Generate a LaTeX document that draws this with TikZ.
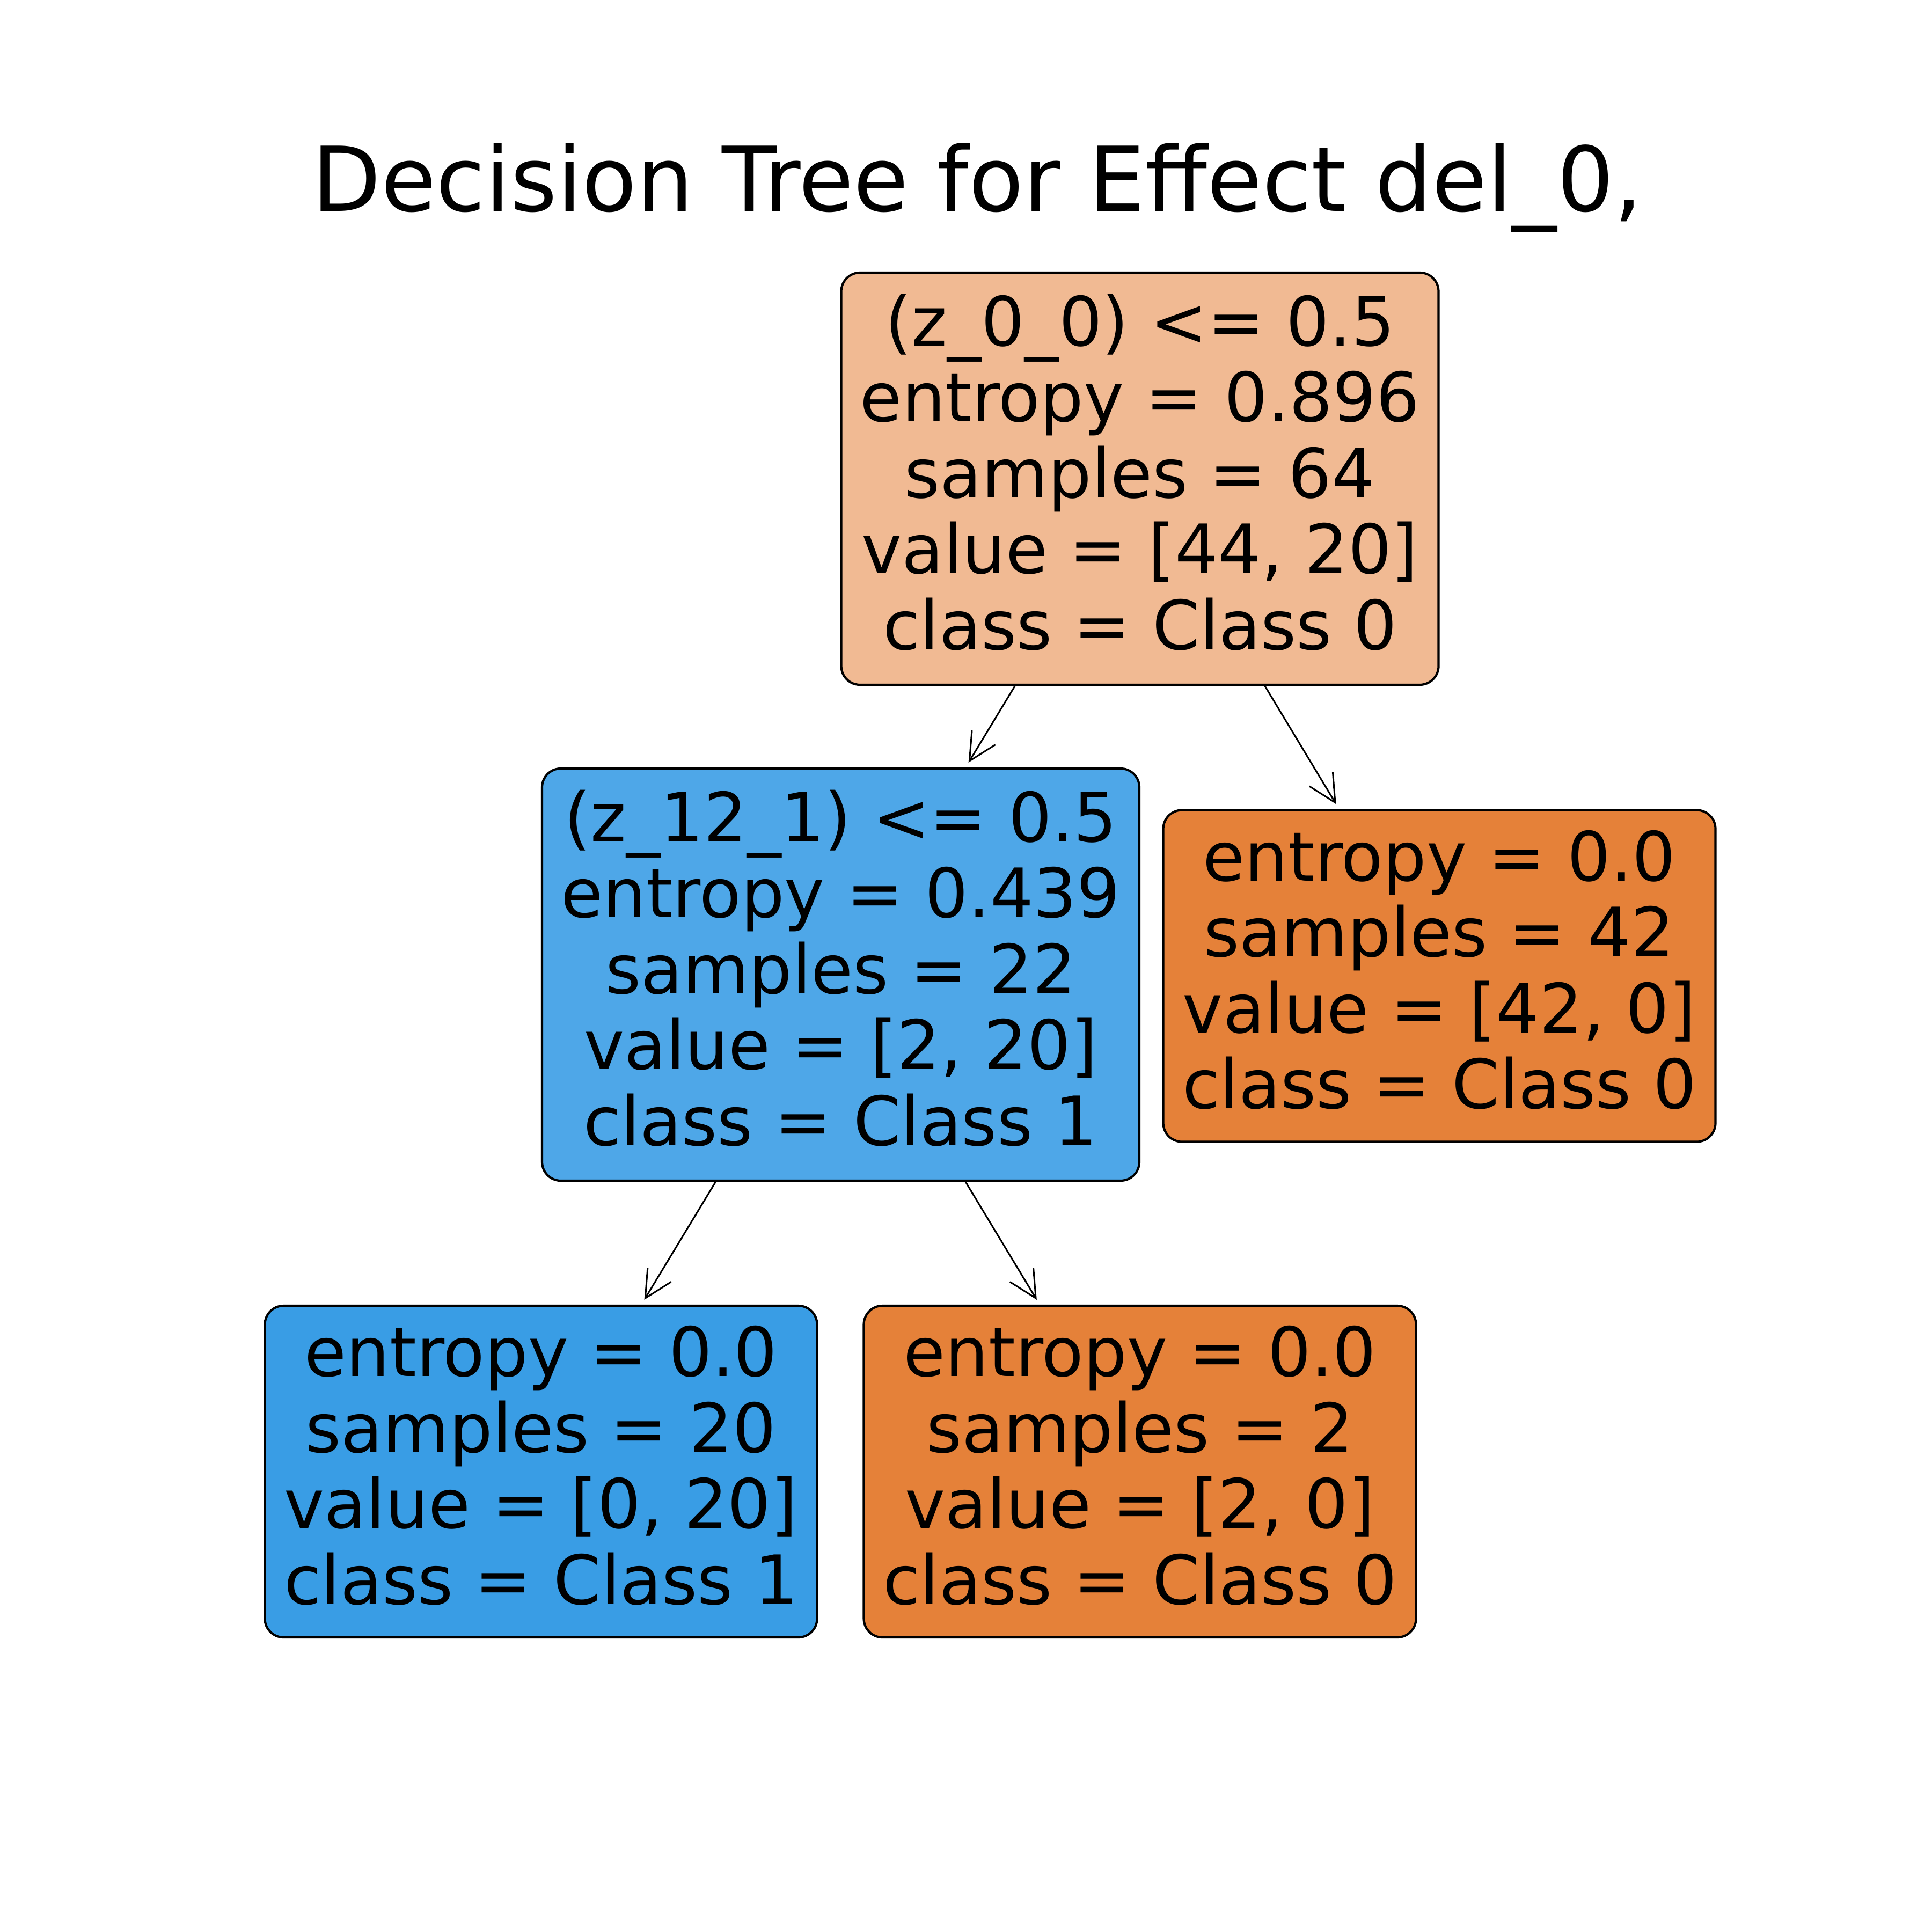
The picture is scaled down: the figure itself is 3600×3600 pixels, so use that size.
\documentclass[tikz,border=0pt]{standalone}
\usepackage{fontspec}
\setmainfont{DejaVu Sans}
\usetikzlibrary{arrows.meta}
\definecolor{rootc}{RGB}{241,186,147}
\definecolor{leftc}{RGB}{78,167,232}
\definecolor{orc}{RGB}{229,129,57}
\definecolor{blc}{RGB}{57,157,229}
\newcommand{\sx}{\rule[-3mm]{0pt}{13mm}}
\begin{document}
\begin{tikzpicture}[x=0.1mm,y=-0.1mm,
  box/.style={draw=black, line width=0.42mm, rounded corners=3.5mm, inner sep=0pt, outer sep=0pt,
    align=center, font=\fontsize{36.14pt}{40.26pt}\selectfont},
  splitbox/.style={box, minimum width=111.3mm, minimum height=76.8mm},
  leafbox/.style={box, minimum width=102.9mm, minimum height=61.8mm},
  edge/.style={line width=0.3mm, -{Straight Barb[length=5.1mm, width=5.1mm]}, shorten >=1.3mm}]
\path[fill=white, use as bounding box] (0,0) rectangle (3600,3600);
\node[font=\fontsize{47.5pt}{56pt}\selectfont, inner sep=0pt, anchor=base] (title) at (1821,394)
  {Decision Tree for Effect del\_0,};
\node[splitbox, fill=rootc] (root) at (2124,892)
  {\sx(z\_0\_0) <= 0.5\\\sx entropy = 0.896\\\sx samples = 64\\\sx value = [44, 20]\\\sx class = Class 0};
\node[splitbox, fill=leftc] (left) at (1566.5,1816)
  {\sx(z\_12\_1) <= 0.5\\\sx entropy = 0.439\\\sx samples = 22\\\sx value = [2, 20]\\\sx class = Class 1};
\node[leafbox, fill=orc] (right) at (2682,1818.5)
  {\sx entropy = 0.0\\\sx samples = 42\\\sx value = [42, 0]\\\sx class = Class 0};
\node[leafbox, fill=blc] (ll) at (1008,2742)
  {\sx entropy = 0.0\\\sx samples = 20\\\sx value = [0, 20]\\\sx class = Class 1};
\node[leafbox, fill=orc] (lr) at (2124,2742)
  {\sx entropy = 0.0\\\sx samples = 2\\\sx value = [2, 0]\\\sx class = Class 0};
\draw[edge] (root) -- (left);
\draw[edge] (root) -- (right);
\draw[edge] (left) -- (ll);
\draw[edge] (left) -- (lr);
\end{tikzpicture}
\end{document}
